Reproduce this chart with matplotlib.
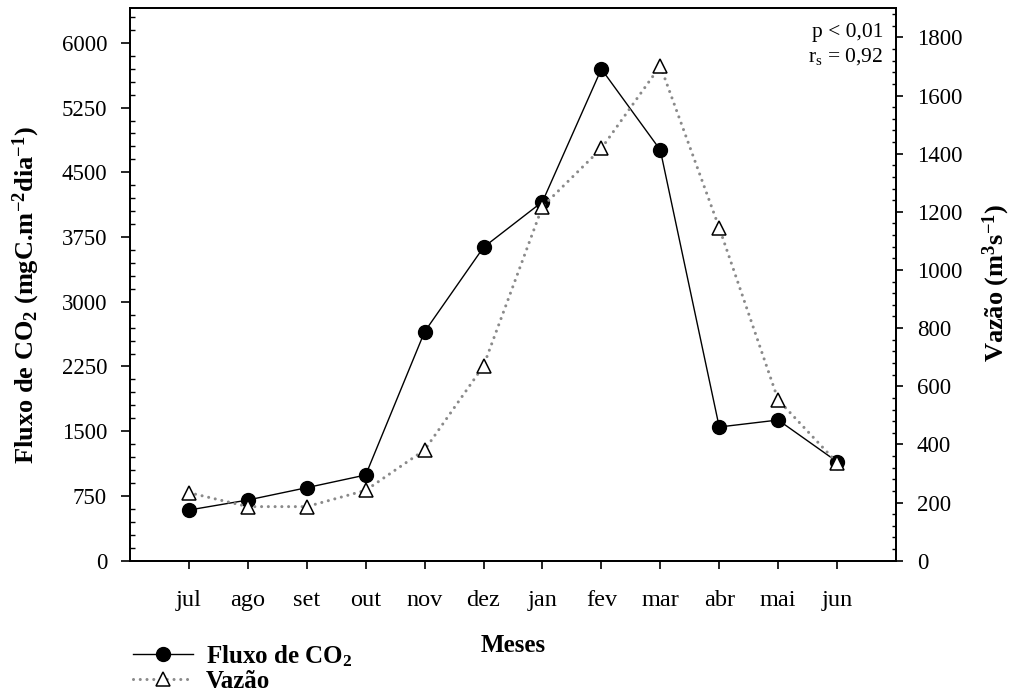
import matplotlib
matplotlib.use("Agg")
import matplotlib.pyplot as plt
from matplotlib.ticker import MultipleLocator
from matplotlib.lines import Line2D

plt.rcParams['font.family'] = ['Liberation Serif', 'DejaVu Serif']
plt.rcParams['mathtext.fontset'] = 'custom'
plt.rcParams['mathtext.rm'] = 'Liberation Serif'
plt.rcParams['mathtext.it'] = 'Liberation Serif:italic'
plt.rcParams['mathtext.bf'] = 'Liberation Serif:bold'

meses = ['jul', 'ago', 'set', 'out', 'nov', 'dez', 'jan', 'fev', 'mar', 'abr', 'mai', 'jun']
fluxo_co2 = [587, 703, 846, 993, 2653, 3631, 4159, 5697, 4758, 1549, 1630, 1147]
vazao = [234, 186, 186, 242, 381, 670, 1218, 1418, 1702, 1145, 553, 337]

x = list(range(1, len(meses) + 1))

fig = plt.figure(figsize=(10.14, 6.91), dpi=100)
ax = fig.add_axes([130 / 1014, 1 - 560.7 / 691, 766 / 1014, 552.4 / 691])
ax2 = ax.twinx()

ax.plot(x, fluxo_co2, color='black', lw=1.0, marker='o', ms=10,
        mfc='black', mec='black', zorder=3)
ax2.plot(x, vazao, color='#8a8a8a', lw=2.2, linestyle=(0, (0.01, 2.2)),
         dash_capstyle='round', zorder=3)
ax2.plot(x, vazao, linestyle='none', marker='^', ms=9.5, mfc='white',
         mec='black', mew=1.1, zorder=4)

ax.set_xlim(0, 13)
ax.set_ylim(0, 6400)
ax2.set_ylim(0, 1900)

ax.set_xticks(x)
ax.set_xticklabels(meses)
ax.yaxis.set_minor_locator(MultipleLocator(150))
ax2.yaxis.set_minor_locator(MultipleLocator(40))
ax.set_yticks([0, 750, 1500, 2250, 3000, 3750, 4500, 5250, 6000])
ax2.set_yticks(list(range(0, 1801, 200)))

ax.tick_params(axis='x', which='both', direction='out', length=5.8, width=1.2,
               labelsize=17.5, pad=15.5, top=False)
ax.tick_params(axis='y', which='major', direction='out', length=6.5, width=1.2,
               labelsize=16.5, pad=10)
ax.tick_params(axis='y', which='minor', direction='in', length=3.6, width=1.0)
ax2.tick_params(axis='y', which='major', direction='out', length=5, width=1.2,
                labelsize=16.5, pad=10)
ax2.tick_params(axis='y', which='minor', direction='in', length=3.2, width=1.0)

for a in (ax, ax2):
    for s in a.spines.values():
        s.set_linewidth(1.3)

ax.set_xlabel('Meses', fontsize=18, fontweight='bold', labelpad=16)
ax.set_ylabel(r'Fluxo de CO$_\mathbf{2}$ (mgC.m$^\mathbf{-2}$dia$^\mathbf{-1}$)',
              fontsize=19, fontweight='bold')
ax.yaxis.label.set_va('center')
ax.yaxis.set_label_coords(-0.135, 0.48)
ax2.set_ylabel(r'Vazão (m$^\mathbf{3}$s$^\mathbf{-1}$)', fontsize=19,
               fontweight='bold')
ax2.yaxis.label.set_va('center')
ax2.yaxis.set_label_coords(1.131, 0.503)

ax2.text(0.983, 0.973, 'p < 0,01', transform=ax2.transAxes, ha='right',
         va='top', fontsize=15.5)
ax2.text(0.983, 0.932, r'r$_\mathrm{s}$ = 0,92', transform=ax2.transAxes,
         ha='right', va='top', fontsize=15.5)

handles = [
    Line2D([], [], color='black', lw=1.0, marker='o', ms=10, mfc='black'),
    Line2D([], [], color='#8a8a8a', lw=2.2, linestyle=(0, (0.01, 2.2)),
           dash_capstyle='round', marker='^', ms=9.5, mfc='white',
           mec='black', mew=1.1),
]
labels = [r'Fluxo de CO$_\mathbf{2}$', 'Vazão']
leg = fig.legend(handles, labels, loc='upper left',
                 bbox_to_anchor=(133 / 1014, 1 - 643 / 691), frameon=False,
                 prop={'size': 18, 'weight': 'bold'}, handlelength=2.4,
                 handletextpad=0.5, labelspacing=0.05, borderpad=0,
                 borderaxespad=0)

fig.savefig('out.png', dpi=100)
